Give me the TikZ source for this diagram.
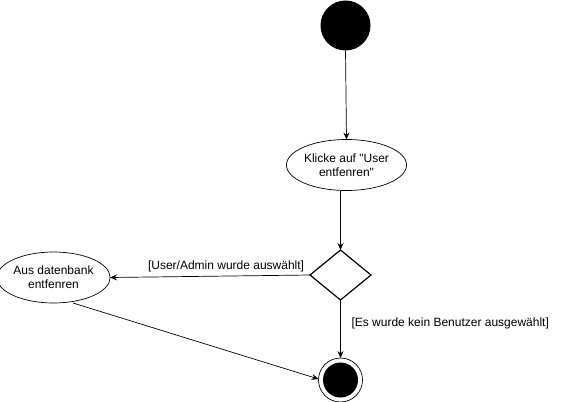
\documentclass[tikz,border=0pt]{standalone}
\usepackage{fontspec}
\setmainfont{Liberation Sans}[Ligatures=TeXOff]
\usetikzlibrary{shapes.geometric,arrows.meta}
\begin{document}
\begin{tikzpicture}[x=1pt,y=-1pt,
  every node/.style={inner sep=0pt,outer sep=0pt},
  act/.style={draw,ellipse,minimum width=#1,minimum height=51pt,line width=0.7pt,align=center,font=\fontsize{12}{14}\selectfont},
  lbl/.style={font=\fontsize{12}{14}\selectfont},
  conn/.style={line width=0.7pt,-{Stealth[length=7pt,width=6pt,inset=2.5pt]}},
  plain/.style={line width=0.7pt}]
\useasboundingbox (0,0) rectangle (561,401);
\node[circle,fill=black,minimum size=50pt] (start) at (345.5,25.5) {};
\node[act=108pt] (klick) at (346.5,165) {Klicke auf "User\\entfenren"};
\node[draw,diamond,line width=1.2pt,minimum width=61pt,minimum height=50pt,inner sep=0pt] (dec) at (340.5,275) {};
\node[act=105pt] (aus) at (53.5,277.5) {Aus datenbank\\entfenren};
\node[circle,draw,line width=0.7pt,minimum size=44pt] (end) at (340.5,380) {};
\node[circle,fill=black,minimum size=35pt] (endin) at (end.center) {};
\coordinate (kb) at (340.5,191);
\coordinate (ab) at (73,303);
\draw[conn] (start.south) -- (klick.north);
\draw[conn] (kb) -- (dec.north);
\draw[conn] (dec.west) -- node[lbl,above=4pt,pos=0.42] {[User/Admin wurde auswählt]} (aus.east);
\draw[conn] (dec.south) -- node[lbl,right=11pt,pos=0.4] {[Es wurde kein Benutzer ausgewählt]} (end.north);
\draw[conn] (ab) -- (end.west |- 379,379);
\end{tikzpicture}
\end{document}
